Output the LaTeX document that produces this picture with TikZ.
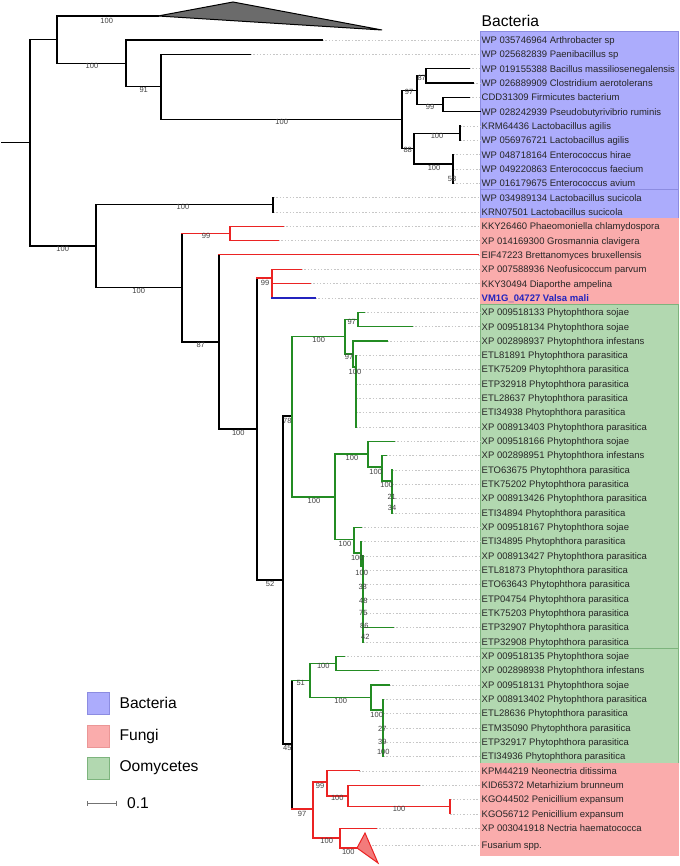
\documentclass[tikz,border=0pt]{standalone}
\usepackage{fontspec}
\setmainfont{Liberation Sans}
\usetikzlibrary{positioning,arrows.meta}
\definecolor{bac-fill}{RGB}{172,172,252}
\definecolor{bac-line}{RGB}{140,140,225}
\definecolor{fun-fill}{RGB}{250,172,172}
\definecolor{fun-line}{RGB}{235,150,150}
\definecolor{oom-fill}{RGB}{178,216,176}
\definecolor{oom-line}{RGB}{125,180,125}
\definecolor{fungus-red}{RGB}{235,35,35}
\definecolor{oomycete-green}{RGB}{35,140,35}
\definecolor{valsa-blue}{RGB}{35,35,190}
\tikzset{
    branch/.style = {line width=1.2pt, line cap=rect},
    fungus/.style = {draw=fungus-red},
    oomycete/.style = {draw=oomycete-green},
    valsa/.style = {draw=valsa-blue},
    leader/.style = {black!22, line width=0.5pt, dash pattern=on 1.5pt off 1.8pt},
    leaf-label/.style = {anchor=west, inner sep=1.5pt, text height=6.8pt, text depth=0pt, font=\fontsize{9.5}{10}\selectfont, text=black!85},
    support/.style = {inner sep=0pt, font=\fontsize{7.5}{8}\selectfont, text=black!75},
    header-label/.style = {anchor=west, inner sep=1.5pt, font=\fontsize{15.6}{17}\selectfont},
    legend-swatch/.style = {minimum size=22pt, inner sep=0pt, line width=0.8pt},
    legend-text/.style = {inner sep=0pt, anchor=west, font=\fontsize{15.6}{17}\selectfont},
}
\begin{document}
\begin{tikzpicture}[x=1pt, y=-1pt]
\useasboundingbox (0,0) rectangle (679,866);
% coloured label panels
\filldraw[fill=bac-fill, draw=bac-line] (480,31) rectangle (678,189.5);
\filldraw[fill=bac-fill, draw=bac-line] (480,189.5) rectangle (678,218.5);
\filldraw[fill=fun-fill, draw=fun-fill] (480,218.5) rectangle (678,304);
\filldraw[fill=oom-fill, draw=oom-line] (480,304) rectangle (678,648.5);
\filldraw[fill=oom-fill, draw=oom-line] (480,648.5) rectangle (678,763.5);
\filldraw[fill=fun-fill, draw=fun-fill] (480,763.5) rectangle (678,855);
\node[header-label] (bac-title) at (480,21) {Bacteria};

% leaf labels
\foreach \txt [count=\i] in {WP 035746964 Arthrobacter sp, WP 025682839 Paenibacillus sp,
    WP 019155388 Bacillus massiliosenegalensis, WP 026889909 Clostridium aerotolerans,
    CDD31309 Firmicutes bacterium, WP 028242939 Pseudobutyrivibrio ruminis,
    KRM64436 Lactobacillus agilis, WP 056976721 Lactobacillus agilis,
    WP 048718164 Enterococcus hirae, WP 049220863 Enterococcus faecium,
    WP 016179675 Enterococcus avium, WP 034989134 Lactobacillus sucicola,
    KRN07501 Lactobacillus sucicola, KKY26460 Phaeomoniella chlamydospora,
    XP 014169300 Grosmannia clavigera, EIF47223 Brettanomyces bruxellensis,
    XP 007588936 Neofusicoccum parvum, KKY30494 Diaporthe ampelina,
    {\bfseries\color{valsa-blue}VM1G\_04727 Valsa mali},
    XP 009518133 Phytophthora sojae, XP 009518134 Phytophthora sojae,
    XP 002898937 Phytophthora infestans, ETL81891 Phytophthora parasitica,
    ETK75209 Phytophthora parasitica, ETP32918 Phytophthora parasitica,
    ETL28637 Phytophthora parasitica, ETI34938 Phytophthora parasitica,
    XP 008913403 Phytophthora parasitica, XP 009518166 Phytophthora sojae,
    XP 002898951 Phytophthora infestans, ETO63675 Phytophthora parasitica,
    ETK75202 Phytophthora parasitica, XP 008913426 Phytophthora parasitica,
    ETI34894 Phytophthora parasitica, XP 009518167 Phytophthora sojae,
    ETI34895 Phytophthora parasitica, XP 008913427 Phytophthora parasitica,
    ETL81873 Phytophthora parasitica, ETO63643 Phytophthora parasitica,
    ETP04754 Phytophthora parasitica, ETK75203 Phytophthora parasitica,
    ETP32907 Phytophthora parasitica, ETP32908 Phytophthora parasitica,
    XP 009518135 Phytophthora sojae, XP 002898938 Phytophthora infestans,
    XP 009518131 Phytophthora sojae, XP 008913402 Phytophthora parasitica,
    ETL28636 Phytophthora parasitica, ETM35090 Phytophthora parasitica,
    ETP32917 Phytophthora parasitica, ETI34936 Phytophthora parasitica,
    KPM44219 Neonectria ditissima, KID65372 Metarhizium brunneum,
    KGO44502 Penicillium expansum, KGO56712 Penicillium expansum,
    XP 003041918 Nectria haematococca}{
  \pgfmathsetmacro\ly{40+(\i-1)*14.33}
  \node[leaf-label] (leaf\i) at (480,\ly) {\txt};
}
\node[leaf-label] (leaf57) at (480,845) {Fusarium spp.};

% dotted leaders from the tips
\foreach \tx [count=\i] in {322,250,469,473,469,480,460,460,453,453,453,273,273,283,278,478,
    301,310,315,364,412,387,356,356,356,356,356,356,394,386,392,392,392,392,361,361,
    363,363,363,363,363,393,363,344,378,389,383,383,383,383,383,359,419,450,450,376,372}{
  \draw[leader] (\tx,0 |- leaf\i.west) -- (leaf\i.west);
}

% bacteria
\draw[branch] (2,142.9) -- (30,142.9);
\draw[branch] (57,39.7) -| (30,246) -- (96,246);
\draw[branch] (158,16) -| (57,63.4) -- (126,63.4);
\filldraw[line width=1pt, fill=black!58] (158,16) -- (233,2) -- (382,30) -- cycle;
\draw[branch] (322,40) -| (126,86.9) -- (161,86.9);
\draw[branch] (250,54.3) -| (161,119.4) -- (402,119.4);
\draw[branch] (417,90.2) -| (402,148.6) -- (414,148.6);
\draw[branch] (426,75.8) -| (417,104.5) -- (443,104.5);
\draw[branch] (469,68.7) -| (426,83) -- (473,83);
\draw[branch] (469,97.3) -| (443,111.7) -- (480,111.7);
\draw[branch] (460,133.2) -| (414,164) -- (453,164);
\draw[branch] (460,126) -- (460,140.3);
\draw[branch] (453,154.6) -- (453,183.3);
\draw[branch] (273,204.8) -| (96,287.7) -- (182,287.7);
\draw[branch] (273,197.6) -- (273,212);

% fungi, upper part
\draw[branch] (182,233.4) -- (182,342) -- (219,342);
\draw[branch, fungus] (230,233.4) -- (182,233.4);
\draw[branch, fungus] (283,226.3) -| (230,240.6) -- (278,240.6);
\draw[branch] (219,254.9) -- (219,429) -- (257,429);
\draw[branch, fungus] (478,254.9) -- (219,254.9);
\draw[branch] (257,278) -- (257,580) -- (283,580);
\draw[branch, fungus] (257,278) -- (272,278);
\draw[branch, fungus] (301,269.3) -| (272,297.9);
\draw[branch, fungus] (272,283.6) -- (310,283.6);
\draw[branch, valsa] (272,297.9) -- (315,297.9);

% oomycetes
\draw[branch] (292,416) -| (283,744) -- (292,744);
\draw[branch] (292,680.4) -- (292,809);
\draw[branch, oomycete] (345,336.7) -| (292,497) -- (335,497);
\draw[branch, oomycete] (358,319.5) -| (345,354) -- (353,354);
\draw[branch, oomycete] (364,312.3) -| (358,326.6) -- (412,326.6);
\draw[branch, oomycete] (387,340.9) -| (353,367) -- (356,367);
\draw[branch, oomycete] (356,355.3) -- (356,426.9);
\draw[branch, oomycete] (368,454) -| (335,539.6) -- (354,539.6);
\draw[branch, oomycete] (394,441.2) -| (368,467) -- (382,467);
\draw[branch, oomycete] (386,455.6) -| (382,481) -- (392,481);
\draw[branch, oomycete] (392,469.9) -- (392,512.9);
\draw[branch, oomycete] (361,527.2) -| (354,553) -- (361,553);
\draw[branch, oomycete] (361,541.6) -- (361,566) -- (363,566);
\draw[branch, oomycete] (363,555.9) -- (363,641.9);
\draw[branch, oomycete] (363,627.5) -- (393,627.5);
\draw[branch, oomycete] (292,680.4) -- (310,680.4);
\draw[branch, oomycete] (336,663.4) -| (310,697.5) -- (371,697.5);
\draw[branch, oomycete] (344,656.2) -| (336,670.5) -- (378,670.5);
\draw[branch, oomycete] (389,684.9) -| (371,710) -- (383,710);
\draw[branch, oomycete] (383,699.2) -- (383,756.5);

% fungi, lower part
\draw[branch, fungus] (292,809) -- (313,809);
\draw[branch, fungus] (327,782) -| (313,838) -- (340,838);
\draw[branch, fungus] (359,770.8) -| (327,796) -- (348,796);
\draw[branch, fungus] (419,785.2) -| (348,806.7) -- (450,806.7);
\draw[branch, fungus] (450,799.5) -- (450,813.8);
\draw[branch, fungus] (376,828.2) -| (340,848) -- (357,848);
\filldraw[line width=1pt, draw=fungus-red, fill=fungus-red!60] (357,848) -- (365,833) -- (378,863) -- cycle;

% bootstrap values
\foreach \px/\py/\val [count=\j] in {106.7/21/100, 92/66/100, 143.7/90/91, 281.7/122.3/100,
    409/92/97, 421.7/78.3/87, 430/106.7/99, 437/135.7/100, 407.7/150/88, 434/167.7/100,
    452/179/58, 183/206.7/100, 62.7/249/100, 206/236/99, 138.7/290.7/100, 200.7/345/87,
    265/282.7/99, 318.7/340/100, 351.7/322.3/97, 349/357.3/97, 355/371.7/100,
    287.3/420.7/78, 238.3/433.3/100, 270/584.3/52, 352/457.7/100, 314/501/100,
    375.7/471.7/100, 386.7/485/100, 391.7/497.3/21, 392/508.3/34, 345/544.3/100,
    357.3/557.7/100, 361.7/572.7/100, 362.7/586.7/38, 363.3/600.7/48, 363.3/613.3/75,
    364.3/626/86, 365.3/636.7/42, 323.3/666/100, 300.7/683.3/51, 340.7/701/100,
    376.7/715.3/100, 382.3/728.7/27, 382.3/741.7/39, 383.3/752/100, 287.3/748.3/45,
    320/785.7/99, 337.3/798.3/100, 399/809.3/100, 302/813.7/97, 326.7/841.3/100,
    348.3/852.3/100}{
  \node[support] (boot\j) at (\px,\py) {\val};
}

% legend
\node[legend-swatch, fill=bac-fill, draw=bac-line] (key-bac) at (98,703) {};
\node[legend-swatch, fill=fun-fill, draw=fun-line] (key-fun) at (98,736) {};
\node[legend-swatch, fill=oom-fill, draw=oom-line] (key-oom) at (98,768) {};
\node[legend-text, right=10pt of key-bac.east] (key-bac-text) {Bacteria};
\node[legend-text, right=10pt of key-fun.east] (key-fun-text) {Fungi};
\node[legend-text, right=10pt of key-oom.east] (key-oom-text) {Oomycetes};
\coordinate (bar-left) at (87,803);
\coordinate (bar-right) at (117,803);
\draw[black!55, line width=0.8pt, {Bar[width=5pt]}-{Bar[width=5pt]}] (bar-left) -- (bar-right);
\node[legend-text, right=10pt of bar-right] (bar-text) {0.1};
\end{tikzpicture}
\end{document}
